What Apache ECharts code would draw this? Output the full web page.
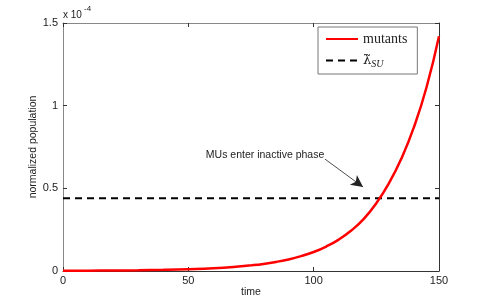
<!DOCTYPE html>
<html>
<head>
<meta charset="utf-8">
<script src="https://cdn.jsdelivr.net/npm/echarts@6/dist/echarts.min.js"></script>
<style>html,body{margin:0;padding:0;background:#fff}#c{width:485px;height:305px}</style>
</head>
<body>
<div id="c"></div>
<script>
// time axis samples
const time = [0, 10, 20, 30, 40, 50, 60, 70, 75, 80, 85, 90, 95, 100, 105, 110, 115, 120, 125, 130, 135, 140, 145, 150];
// mutants, normalized population (units of 1e-4)
const mutants = [0.0013, 0.002, 0.003, 0.0045, 0.007, 0.011, 0.017, 0.027, 0.034, 0.043, 0.055, 0.07, 0.09, 0.115, 0.148, 0.19, 0.245, 0.315, 0.41, 0.53, 0.68, 0.87, 1.11, 1.42];
// threshold lambda_SU (units of 1e-4)
const lambdaSU = 0.44;
const thresholdTimes = [0, 150];
// annotation: text anchor and arrow [tail, head] in data coords
const annotText = 'MUs enter inactive phase';
const annotTextPos = [80.6, 0.70];
const arrowTail = [104.5, 0.677];
const arrowHead = [119.7, 0.508];

const chart = echarts.init(document.getElementById('c'), null, {renderer: 'canvas'});
const sans = 'Liberation Sans, Arial, sans-serif';
const serif = 'DejaVu Serif, serif';
const tickFont = {fontFamily: sans, fontSize: 11, color: '#222'};

const axisCommon = {
  type: 'value',
  splitLine: {show: false},
  nameMoveOverlap: false,
  axisTick: {show: true, inside: true, length: 4, lineStyle: {color: '#333'}},
};

chart.setOption({
  animation: false,
  backgroundColor: '#fff',
  grid: {left: 63, right: 46, top: 23, bottom: 34, containLabel: false},
  legend: {
    orient: 'vertical',
    left: 318, top: 27,
    padding: [5, 10, 5, 7],
    itemWidth: 32, itemHeight: 14, itemGap: 8,
    backgroundColor: '#fff',
    borderColor: '#777', borderWidth: 1, borderRadius: 0,
    itemStyle: {opacity: 0},
    data: ['mutants', 'lambda'],
    formatter: function (name) {
      return name === 'mutants' ? '{m|mutants}' : '{l|λ̃}{s|SU}';
    },
    textStyle: {
      color: '#222',
      rich: {
        m: {fontFamily: 'Liberation Serif, serif', fontSize: 14, color: '#222'},
        l: {fontFamily: serif, fontSize: 13, color: '#222'},
        s: {fontFamily: 'Liberation Serif, serif', fontSize: 10, fontStyle: 'italic', color: '#222', padding: [7, 0, 0, 0]}
      }
    }
  },
  xAxis: [
    Object.assign({}, axisCommon, {
      min: 0, max: 150, interval: 50,
      name: 'time', nameLocation: 'middle', nameGap: 16,
      nameTextStyle: {fontFamily: sans, fontSize: 10.5, color: '#222'},
      axisLine: {show: true, onZero: false, lineStyle: {color: '#333', width: 1}},
      axisLabel: Object.assign({margin: 4}, tickFont)
    }),
    Object.assign({}, axisCommon, {
      position: 'top', min: 0, max: 150, interval: 50,
      axisLine: {show: true, onZero: false, lineStyle: {color: '#888', width: 1}},
      axisLabel: {show: false}
    })
  ],
  yAxis: [
    Object.assign({}, axisCommon, {
      min: 0, max: 1.5, interval: 0.5,
      name: 'normalized population', nameLocation: 'middle', nameGap: 24,
      nameTextStyle: {fontFamily: sans, fontSize: 10.5, color: '#222'},
      axisLine: {show: true, onZero: false, lineStyle: {color: '#888', width: 1}},
      axisLabel: Object.assign({margin: 5}, tickFont)
    }),
    Object.assign({}, axisCommon, {
      position: 'right', min: 0, max: 1.5, interval: 0.5,
      axisLine: {show: true, onZero: false, lineStyle: {color: '#333', width: 1}},
      axisLabel: {show: false}
    })
  ],
  series: [
    {
      name: 'mutants', type: 'line', smooth: true, symbol: 'none', showSymbol: false,
      color: '#ff0000',
      lineStyle: {color: '#ff0000', width: 2.5},
      data: time.map((t, i) => [t, mutants[i]]),
      z: 3
    },
    {
      name: 'lambda', type: 'line', symbol: 'none', showSymbol: false,
      color: '#000',
      lineStyle: {color: '#000', width: 2, type: [7, 5]},
      data: thresholdTimes.map(t => [t, lambdaSU]),
      z: 2,
      markLine: {
        silent: true, symbol: ['none', 'arrow'], symbolSize: [9, 12],
        lineStyle: {color: '#222', width: 0.8, type: 'solid'},
        label: {show: false},
        data: [[{coord: arrowTail}, {coord: arrowHead}]]
      },
      markPoint: {
        silent: true, symbol: 'circle', symbolSize: 0,
        label: {show: true, position: 'inside', formatter: annotText, fontFamily: sans, fontSize: 10.5, color: '#222'},
        data: [{coord: annotTextPos}]
      }
    }
  ],
  graphic: [
    {type: 'text', left: 63, top: 10, style: {text: 'x 10', fontFamily: sans, fontSize: 10, fill: '#222'}},
    {type: 'text', left: 84, top: 5, style: {text: '-4', fontFamily: sans, fontSize: 8, fill: '#222'}}
  ]
});
</script>
</body>
</html>
